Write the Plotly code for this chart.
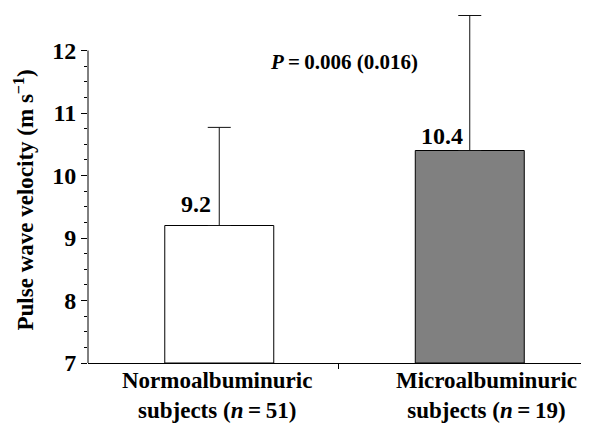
import plotly.graph_objects as go

categories = ["Normoalbuminuric", "Microalbuminuric"]
n_subjects = [51, 19]
means = [9.2, 10.4]
sds = [1.57, 2.16]
bar_colors = ["#ffffff", "#808080"]
y_ticks = [7, 8, 9, 10, 11, 12]
p_text = "<i>P</i>\u2009=\u20090.006 (0.016)"

FONT = "Liberation Serif"
x_idx = list(range(len(categories)))

fig = go.Figure()
fig.add_trace(go.Bar(
    x=x_idx, y=[m - 7 for m in means], base=7,
    width=0.435, offset=-0.1935,
    marker=dict(color=bar_colors, line=dict(color="#000000", width=1)),
    error_y=dict(type="data", array=sds, symmetric=False, arrayminus=[0, 0],
                 color="#111111", thickness=1, width=11.5),
    hoverinfo="skip",
))

# value labels
label_pos = [(9.55, 0), (10.63, 1)]
for i, m in enumerate(means):
    fig.add_annotation(x=x_idx[i], y=label_pos[i][0], text=f"<b>{m}</b>", showarrow=False,
                       xanchor="right", yanchor="middle", xshift=label_pos[i][1],
                       font=dict(family=FONT, size=24, color="#000"))

# category labels
cat_shift = [4, 23]
for i, c in enumerate(categories):
    fig.add_annotation(x=x_idx[i], y=-0.094, yref="paper",
                       text=f"<b>{c}<br>subjects (<i>n</i>\u2009=\u2009{n_subjects[i]})</b>",
                       showarrow=False, xanchor="center", yanchor="middle", xshift=cat_shift[i],
                       font=dict(family=FONT, size=23, color="#000"))

# P value
fig.add_annotation(x=0.52, y=11.82, text=f"<b>{p_text}</b>", showarrow=False,
                   xanchor="center", yanchor="middle",
                   font=dict(family=FONT, size=21, color="#000"))

# y title
fig.add_annotation(x=0, xref="paper", y=9.6, text="<b>Pulse wave velocity (m s<sup>\u22121</sup>)</b>",
                   showarrow=False, textangle=-90, xanchor="center", yanchor="middle", xshift=-64,
                   font=dict(family=FONT, size=23, color="#000"))

# y axis line from 7 to 12
fig.add_shape(type="line", xref="paper", x0=0, x1=0, yref="y", y0=7, y1=12,
              line=dict(color="#000", width=1))

# the page body has an 8px margin; compensate so the plot lands where the reference has it
fig.update_layout(
    width=581, height=415,
    margin=dict(l=80, r=0, t=5, b=60),
    paper_bgcolor="white", plot_bgcolor="white",
    showlegend=False,
    xaxis=dict(range=[-0.5, 1.5], showgrid=False, zeroline=False,
               showline=True, linecolor="#000", linewidth=1,
               tickvals=[0, 1], showticklabels=False, ticks="",
               minor=dict(tickvals=[0.5], ticks="outside", ticklen=5, tickcolor="#000", tickwidth=1)),
    yaxis=dict(range=[7, 12.6], showgrid=False, zeroline=False, showline=False,
               tickvals=y_ticks, ticks="outside", ticklen=6, tickcolor="#000", tickwidth=1,
               tickfont=dict(family=FONT, size=24, color="#000", weight="bold"),
               minor=dict(tickvals=[7 + 0.25 * k for k in range(21)], ticks="outside",
                          ticklen=3, tickcolor="#000", tickwidth=1, showgrid=False)),
)

fig.write_html("out.html")
